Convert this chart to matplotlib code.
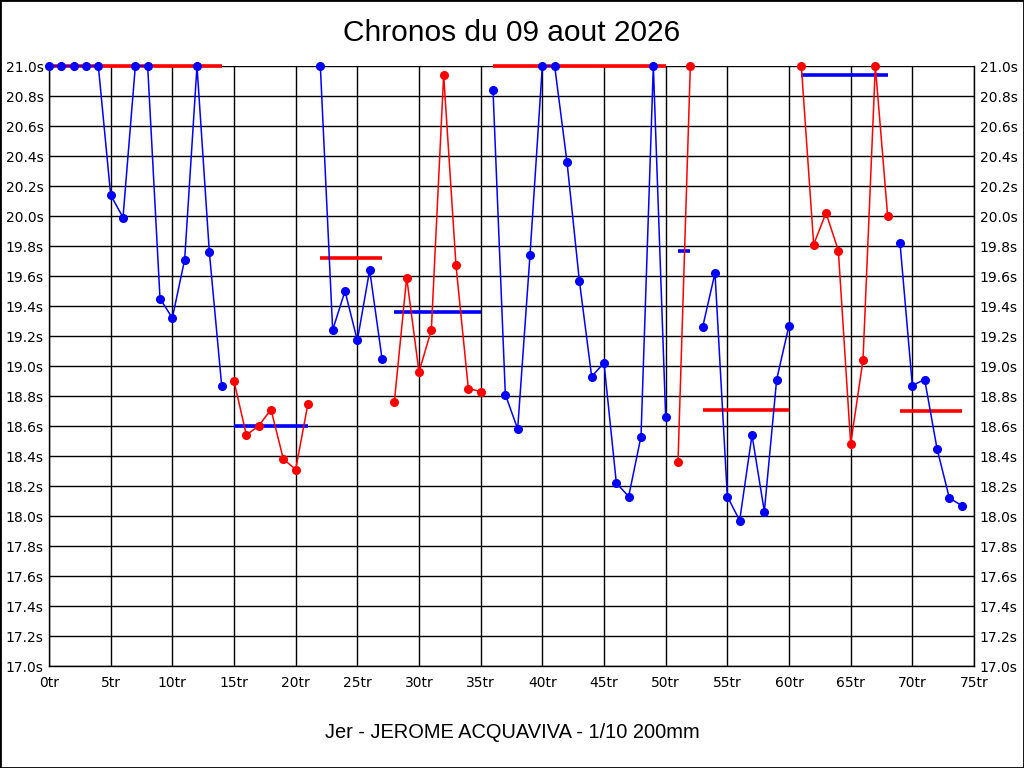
import matplotlib
matplotlib.use("Agg")
import matplotlib.pyplot as plt
import numpy as np

# lap times (s), one per lap, laps 0..74
chronos = [21.0, 21.0, 21.0, 21.0, 21.0, 20.14, 19.99, 21.0, 21.0, 19.45,
           19.32, 19.71, 21.0, 19.76, 18.87,
           18.90, 18.54, 18.60, 18.71, 18.38, 18.31, 18.75,
           21.0, 19.24, 19.50, 19.17, 19.64, 19.05,
           18.76, 19.59, 18.96, 19.24, 20.94, 19.67, 18.85, 18.83,
           20.84, 18.81, 18.58, 19.74, 21.0, 21.0, 20.36, 19.57, 18.93, 19.02,
           18.22, 18.13, 18.53, 21.0, 18.66,
           18.36, 21.0,
           19.26, 19.62, 18.13, 17.97, 18.54, 18.03, 18.91, 19.27,
           21.0, 19.81, 20.02, 19.77, 18.48, 19.04, 21.0, 20.00,
           19.82, 18.87, 18.91, 18.45, 18.12, 18.07]

# first and last lap of each run
seg_start = [0, 15, 22, 28, 36, 51, 53, 61, 69]
seg_end = [14, 21, 27, 35, 50, 52, 60, 68, 74]
# mean line shown for each run
seg_mean = [21.0, 18.60, 19.72, 19.36, 21.0, 19.77, 18.71, 20.94, 18.70]

title = "Chronos du 09 aout 2026"
pilote = "Jer - JEROME ACQUAVIVA - 1/10 200mm"

plt.rcParams["font.family"] = ["Liberation Sans", "DejaVu Sans"]
tick_font = ["DejaVu Sans"]

fig = plt.figure(figsize=(10.24, 7.68), dpi=100)
ax = fig.add_axes([49 / 1024, 1 - 666 / 768, 925 / 1024, 600 / 768])

laps = np.arange(len(chronos))
y = np.array(chronos)
for i, (a, b) in enumerate(zip(seg_start, seg_end)):
    col = "#0000ff" if i % 2 == 0 else "#ff0000"
    other = "#ff0000" if i % 2 == 0 else "#0000ff"
    ax.plot(laps[a:b + 1], y[a:b + 1], color=col, lw=1.1, marker="o",
            markersize=5.5, clip_on=False, zorder=4)
    ax.plot([a, b], [seg_mean[i], seg_mean[i]], color=other, lw=2.6,
            solid_capstyle="butt", zorder=3, clip_on=False)

ax.set_xlim(0, 75)
ax.set_ylim(17.0, 21.0)
ax.set_xticks(np.arange(0, 76, 5))
ax.set_xticklabels([f"{v}tr" for v in range(0, 76, 5)], family=tick_font, fontsize=10)
yt = np.round(np.arange(17.0, 21.01, 0.2), 1)
ax.set_yticks(yt)
ax.set_yticklabels([f"{v:.1f}s" for v in yt], family=tick_font, fontsize=10)
ax.tick_params(axis="x", length=0, pad=7)
ax.tick_params(axis="y", length=0, labelright=True, right=False, pad=4)
ax.grid(True, color="black", lw=1)
for side in ["left", "right", "bottom"]:
    ax.spines[side].set_color("black")
    ax.spines[side].set_linewidth(1)
ax.spines["top"].set_visible(False)

fig.text(0.5, 1 - 33 / 768, title, ha="center", va="center", fontsize=21.5)
fig.text(0.5, 1 - 733 / 768, pilote, ha="center", va="center", fontsize=14.4)

fig.add_artist(plt.Rectangle((0, 0), 1, 1, transform=fig.transFigure,
                             fill=False, ec="black", lw=2))

fig.savefig("out.png", dpi=100, facecolor="white")
